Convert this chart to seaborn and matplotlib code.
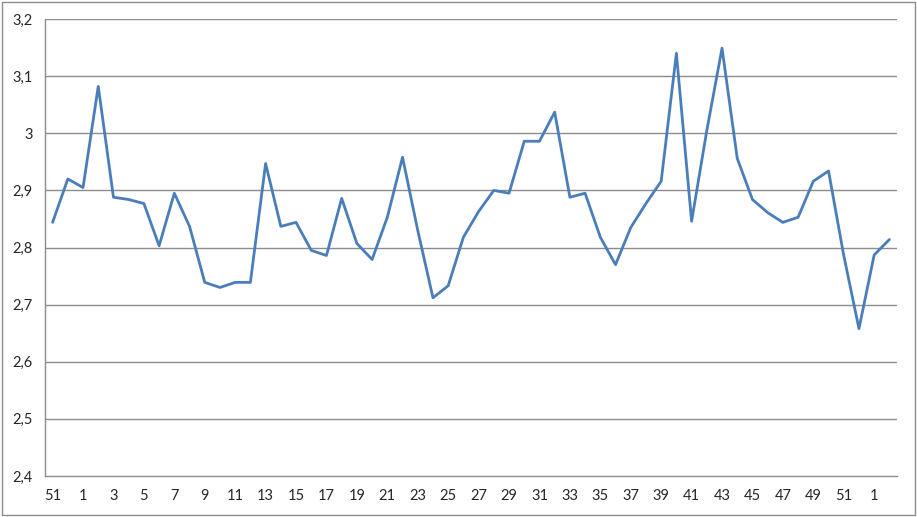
import matplotlib
matplotlib.use("Agg")
import matplotlib.pyplot as plt
from matplotlib.patches import Rectangle
import pandas as pd
import seaborn as sns

# week numbers on the category axis (late year 1 -> early year 3)
weeks = [51, 52] + list(range(1, 53)) + [1, 2]

# weekly averages
values = [2.844, 2.920, 2.905, 3.082, 2.888, 2.884, 2.877, 2.803, 2.895, 2.837,
          2.739, 2.730, 2.739, 2.739, 2.947, 2.837, 2.844, 2.795, 2.786, 2.886,
          2.807, 2.779, 2.853, 2.958, 2.830, 2.712, 2.733, 2.818, 2.863, 2.900,
          2.895, 2.986, 2.986, 3.037, 2.888, 2.895, 2.818, 2.770, 2.835, 2.877,
          2.916, 3.140, 2.846, 3.005, 3.149, 2.956, 2.884, 2.861, 2.844, 2.853,
          2.916, 2.934, 2.786, 2.658, 2.787, 2.814]

y_ticks = [2.4, 2.5, 2.6, 2.7, 2.8, 2.9, 3.0, 3.1, 3.2]
y_labels = ["2,4", "2,5", "2,6", "2,7", "2,8", "2,9", "3", "3,1", "3,2"]

df = pd.DataFrame({"pos": range(len(values)), "value": values})

sns.set_style("white")
plt.rcParams["font.family"] = ["Lato", "DejaVu Sans"]

fig = plt.figure(figsize=(9.17, 5.17), dpi=100)
W, H = 917, 517
ax = fig.add_axes([45 / W, (H - 476) / H, (897 - 45) / W, (476 - 19) / H])

sns.lineplot(data=df, x="pos", y="value", color="#4a7ebb", linewidth=2.0, ax=ax)

grid_col = "#8c8c8c"
ax.set_ylim(2.4, 3.2)
ax.set_xlim(-0.5, len(values) - 0.5)
ax.set_yticks(y_ticks)
ax.set_yticklabels(y_labels)
for yv in y_ticks[1:]:
    ax.axhline(yv, color=grid_col, linewidth=1.0, zorder=0)

# tick marks at category boundaries, labels on every other category
ax.set_xticks([i - 0.5 for i in range(len(values) + 1)])
ax.set_xticklabels([])
ax.set_xticks(list(range(0, len(values), 2)), minor=True)
ax.set_xticklabels([str(weeks[i]) for i in range(0, len(values), 2)], minor=True)
ax.tick_params(axis="x", which="major", length=5, width=1, color=grid_col, direction="out")
ax.tick_params(axis="x", which="minor", length=0, pad=9, labelsize=10.5)
ax.tick_params(axis="y", length=5, width=1, color=grid_col, direction="out", pad=4, labelsize=10.5)

ax.set_xlabel("")
ax.set_ylabel("")
for s in ["top", "right"]:
    ax.spines[s].set_visible(False)
for s in ["left", "bottom"]:
    ax.spines[s].set_color(grid_col)
    ax.spines[s].set_linewidth(1.0)

# outer chart border
fig.patches.append(Rectangle((2 / W, 2 / H), (W - 4) / W, (H - 4) / H,
                             transform=fig.transFigure, fill=False,
                             edgecolor="#8c8c8c", linewidth=1.0))

fig.savefig("out.png", dpi=100)
